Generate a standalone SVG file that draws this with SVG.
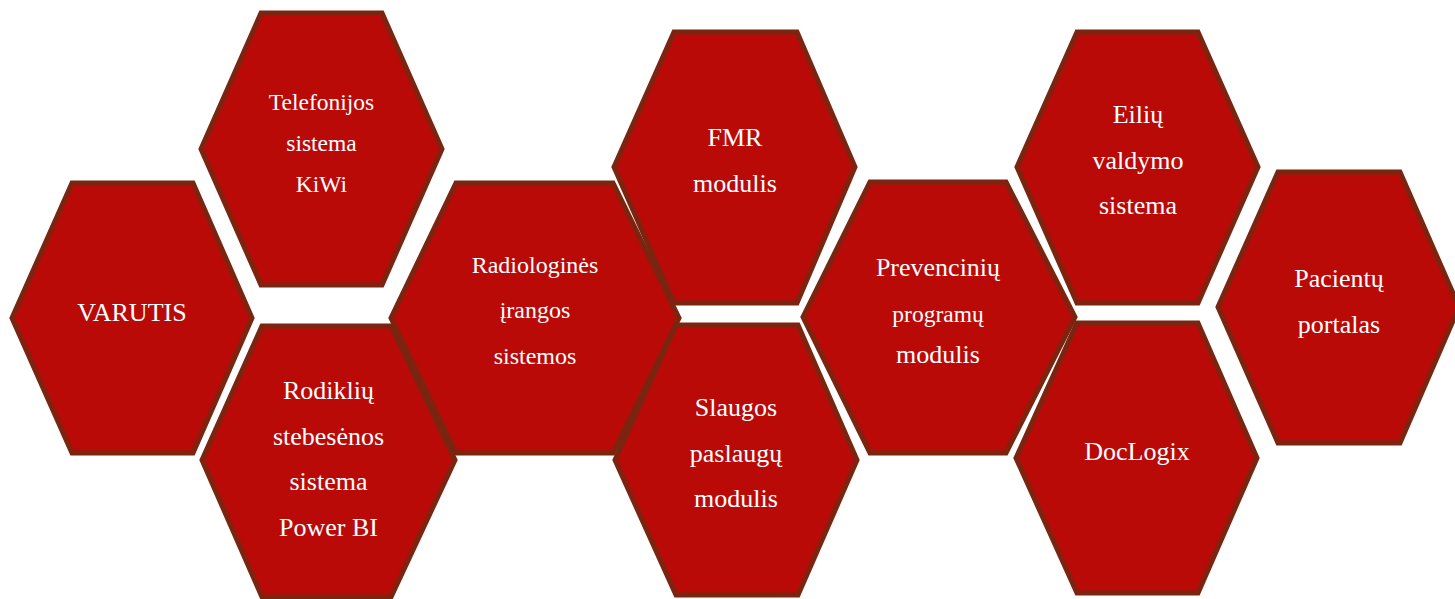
<svg xmlns="http://www.w3.org/2000/svg" width="1455" height="599" viewBox="0 0 1455 599">
  <style>
    .hex { fill: #BA0A08; stroke: #7B2511; stroke-width: 5; stroke-linejoin: miter; }
    text { fill: #FFFFFF; font-family: 'Liberation Serif', serif; font-size: 26px; text-anchor: middle; }
    .sm { font-size: 23.5px; }
    .md { font-size: 24px; }
  </style>
  <rect width="1455" height="599" fill="#FFFFFF"/>

  <g id="varutis">
    <polygon class="hex" points="72,183 193,183 252,318 193,453 72,453 12,318"/>
    <text x="132" y="321">VARUTIS</text>
  </g>

  <g id="telefonijos">
    <polygon class="hex" points="261,13 382,13 442,149 382,285 261,285 201,149"/>
    <text class="sm" x="321.5" y="110">Telefonijos</text>
    <text class="sm" x="321.5" y="151">sistema</text>
    <text class="sm" x="321.5" y="192">KiWi</text>
  </g>

  <g id="rodikliai">
    <polygon class="hex" points="262,326 391,326 455,460 391,597 262,597 202,460"/>
    <text x="328.5" y="399">Rodiklių</text>
    <text x="328.5" y="445">stebesėnos</text>
    <text x="328.5" y="490">sistema</text>
    <text x="328.5" y="536">Power BI</text>
  </g>

  <g id="radiologines">
    <polygon class="hex" points="456,183 613,183 679,318 613,453 456,453 391,318"/>
    <text class="md" x="535" y="273">Radiologinės</text>
    <text class="md" x="535" y="318">įrangos</text>
    <text class="md" x="535" y="364">sistemos</text>
  </g>

  <g id="fmr">
    <polygon class="hex" points="674,32 797,32 855,167 797,303 674,303 614,167"/>
    <text x="735" y="146">FMR</text>
    <text x="735" y="192">modulis</text>
  </g>

  <g id="slaugos">
    <polygon class="hex" points="676,325 798,325 857,460 798,595 676,595 615,460"/>
    <text x="736" y="416">Slaugos</text>
    <text x="736" y="462">paslaugų</text>
    <text x="736" y="507">modulis</text>
  </g>

  <g id="prevenciniai">
    <polygon class="hex" points="870,182 1006,182 1075,317 1006,453 870,453 803,317"/>
    <text x="938" y="276">Prevencinių</text>
    <text class="sm" x="938" y="322">programų</text>
    <text x="938" y="363">modulis</text>
  </g>

  <g id="eiles">
    <polygon class="hex" points="1077,32 1198,32 1258,167 1198,303 1077,303 1017,167"/>
    <text x="1138" y="123">Eilių</text>
    <text x="1138" y="169">valdymo</text>
    <text x="1138" y="214">sistema</text>
  </g>

  <g id="doclogix">
    <polygon class="hex" points="1077,323 1198,323 1257,458 1198,593 1077,593 1016,458"/>
    <text x="1137" y="460">DocLogix</text>
  </g>

  <g id="pacientai">
    <polygon class="hex" points="1278,172 1400,172 1459,307 1400,443 1278,443 1218,307"/>
    <text x="1339" y="287">Pacientų</text>
    <text x="1339" y="333">portalas</text>
  </g>

  <g id="connectors"/>
</svg>
